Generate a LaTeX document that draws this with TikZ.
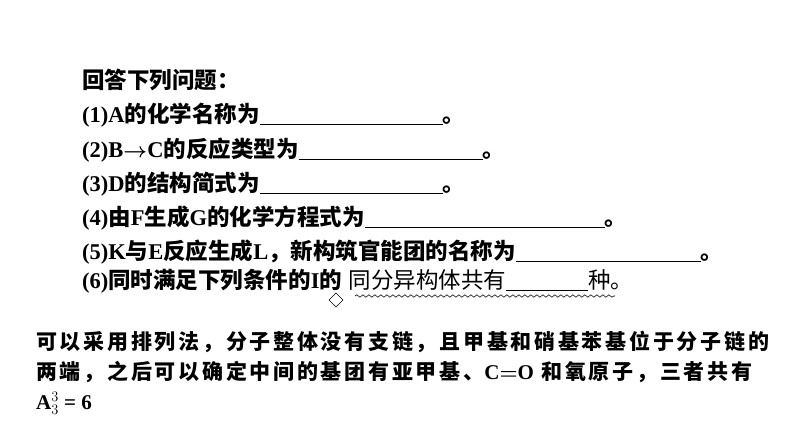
\documentclass[tikz,border=0pt]{standalone}
\usepackage{amsmath}
\usepackage{fontspec}
\setmainfont{Liberation Serif}
\newfontfamily\cjk{Noto Sans CJK SC}
\newfontfamily\cjkw[LetterSpace=13]{Noto Sans CJK SC}
\usetikzlibrary{positioning, decorations.pathmorphing}
\newcommand{\blank}[1]{\underline{\hspace{#1pt}}}
\newcommand{\lat}[1]{{\rmfamily\bfseries #1}}
\tikzset{
  qline/.style={anchor=base west, inner sep=0pt, font=\fontsize{22.5}{22.5}\selectfont\cjk\bfseries},
  aline/.style={anchor=base west, inner sep=0pt, font=\fontsize{21}{21}\selectfont\cjkw\bfseries},
}
\begin{document}
\begin{tikzpicture}[x=1pt,y=-1pt]
  \useasboundingbox (0,0) rectangle (794,447);

  % questions
  \node[qline] (q0) at (82,88) {回答下列问题：};
  \node[qline] (q1) at (82,122) {\lat{(1)A}的化学名称为\blank{183}。};
  \node[qline] (q2) at (82,157) {\lat{(2)B}$\boldsymbol{\rightarrow}$\lat{C}的反应类型为\blank{184}。};
  \node[qline] (q3) at (82,191) {\lat{(3)D}的结构简式为\blank{183}。};
  \node[qline] (q4) at (82,225) {\lat{(4)}由\lat{F}生成\lat{G}的化学方程式为\blank{240}。};
  \node[qline] (q5) at (82,259) {\lat{(5)K}与\lat{E}反应生成\lat{L}，新构筑官能团的名称为\blank{185}。};
  \node[qline] (q6) at (82,288) {\lat{(6)}同时满足下列条件的\lat{I}的};
  \node[qline, font=\fontsize{22.5}{22.5}\selectfont\cjk, right=6pt of q6.base east, anchor=base west]
    (q6b) {同分异构体共有\blank{82}种。};

  % wavy underline and diamond
  \draw[decorate, decoration={snake, amplitude=1.2pt, segment length=6pt}, line width=0.6pt]
    (355,296) -- (615,296);
  \draw[line width=0.5pt] (336,293) -- (343,300) -- (336,307) -- (329,300) -- cycle;

  % answer
  \node[aline] (a1) at (36,349) {可以采用排列法，分子整体没有支链，且甲基和硝基苯基位于分子链的};
  \node[aline] (a2) at (36,379) {两端，之后可以确定中间的基团有亚甲基、\lat{C}$\boldsymbol{=}$\lat{O} 和氧原子，三者共有};
  \node[aline] (a3) at (36,409) {\lat{A$_3^3$ = 6}};
\end{tikzpicture}
\end{document}
